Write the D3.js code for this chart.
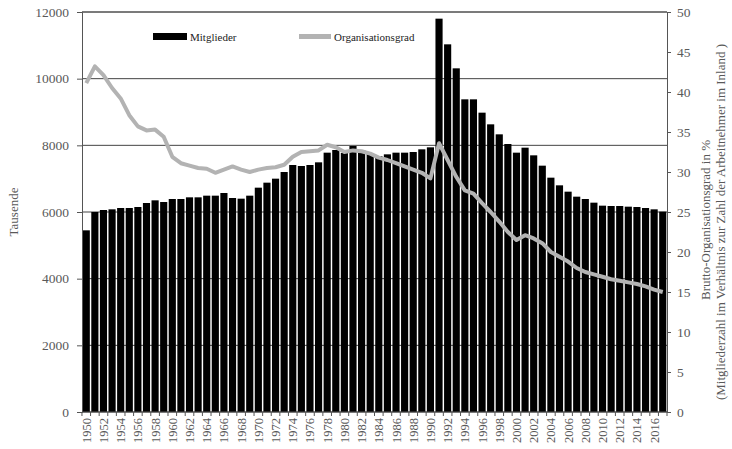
<!DOCTYPE html>
<html>
<head>
<meta charset="utf-8">
<script src="https://cdn.jsdelivr.net/npm/d3@7"></script>
<style>
  body { margin: 0; background: #fff; }
  svg text { font-family: "Liberation Serif", "DejaVu Serif", serif; }
</style>
</head>
<body>
<script>
"use strict";
// years 1950 - 2017
const years = d3.range(1950, 2018)
// Mitglieder in Tausend
const members = [
  5450, 6000, 6060, 6080, 6120, 6120, 6150, 6270, 6350, 6300,
  6390, 6390, 6440, 6440, 6490, 6490, 6570, 6420, 6400, 6490,
  6730, 6880, 7000, 7200, 7410, 7380, 7410, 7490, 7780, 7860,
  7770, 7980, 7860, 7770, 7680, 7730, 7780, 7780, 7800, 7880,
  7940, 11800, 11030, 10310, 9380, 9380, 8980, 8630, 8330, 8040,
  7780, 7930, 7700, 7390, 7030, 6800, 6610, 6460, 6390, 6280,
  6190, 6180, 6180, 6160, 6150, 6120, 6080, 6010
]
// Brutto-Organisationsgrad in %
const orgGrad = [
  41.1, 43.2, 42.1, 40.5, 39.2, 37.1, 35.7, 35.2, 35.3, 34.4,
  31.9, 31.1, 30.8, 30.5, 30.4, 29.9, 30.3, 30.7, 30.3, 30.0,
  30.3, 30.5, 30.6, 30.9, 31.9, 32.5, 32.6, 32.7, 33.4, 33.1,
  32.5, 32.7, 32.6, 32.3, 31.8, 31.5, 31.1, 30.7, 30.3, 29.9,
  29.2, 33.6, 31.5, 29.4, 27.7, 27.3, 26.1, 25.0, 23.8, 22.5,
  21.5, 22.1, 21.7, 21.1, 20.0, 19.4, 18.8, 18.0, 17.5, 17.2,
  16.9, 16.6, 16.4, 16.2, 16.0, 15.7, 15.3, 15.0
]
const leftTicks = [0, 2000, 4000, 6000, 8000, 10000, 12000]
const rightTicks = [0, 5, 10, 15, 20, 25, 30, 35, 40, 45, 50]

const width = 732, height = 449
const margin = { top: 12, right: 65, bottom: 37, left: 82 }
const innerW = width - margin.left - margin.right
const innerH = height - margin.top - margin.bottom
const serif = "'Liberation Serif', 'DejaVu Serif', serif"

const svg = d3.select("body").append("svg")
    .attr("width", width)
    .attr("height", height)

const g = svg.append("g")
    .attr("transform", `translate(${margin.left},${margin.top})`)

const x = d3.scaleBand()
    .domain(years)
    .range([0, innerW])
    .paddingInner(0.17)
    .paddingOuter(0.08)
const yLeft = d3.scaleLinear().domain([0, 12000]).range([innerH, 0])
const yRight = d3.scaleLinear().domain([0, 50]).range([innerH, 0])

const axisColor = "#555"
const labelColor = "#595959"

// gridlines
g.append("g").selectAll("line")
  .data(leftTicks)
  .join("line")
    .attr("x1", 0).attr("x2", innerW)
    .attr("y1", d => yLeft(d)).attr("y2", d => yLeft(d))
    .attr("stroke", "#444")
    .attr("stroke-width", 1)

// bars
g.append("g").selectAll("rect")
  .data(years)
  .join("rect")
    .attr("x", d => x(d))
    .attr("y", (d, i) => yLeft(members[i]))
    .attr("width", x.bandwidth())
    .attr("height", (d, i) => innerH - yLeft(members[i]))
    .attr("fill", "#000")

// line
const line = d3.line()
    .x((d, i) => x(years[i]) + x.bandwidth() / 2)
    .y(d => yRight(d))
g.append("path")
    .datum(orgGrad)
    .attr("d", line)
    .attr("fill", "none")
    .attr("stroke", "#b3b3b3")
    .attr("stroke-width", 4)
    .attr("stroke-linejoin", "round")

// left axis
const leftAxis = g.append("g")
    .call(d3.axisLeft(yLeft).tickValues(leftTicks).tickSize(5).tickPadding(8).tickFormat(d3.format("d")))
leftAxis.attr("font-family", serif)
leftAxis.select(".domain").attr("stroke", axisColor)
leftAxis.selectAll(".tick line").attr("stroke", axisColor)
leftAxis.selectAll("text")
    .attr("fill", labelColor)
    .style("font-size", "13.5px")

// right axis
const rightAxis = g.append("g")
    .attr("transform", `translate(${innerW},0)`)
    .call(d3.axisRight(yRight).tickValues(rightTicks).tickSize(4).tickPadding(6))
rightAxis.attr("font-family", serif)
rightAxis.select(".domain").attr("stroke", axisColor)
rightAxis.selectAll(".tick line").attr("stroke", axisColor)
rightAxis.selectAll("text")
    .attr("fill", labelColor)
    .style("font-size", "13.5px")

// bottom axis: ticks at band edges, labels every two years
const bottom = g.append("g").attr("transform", `translate(0,${innerH})`)
bottom.append("line")
    .attr("x1", 0).attr("x2", innerW)
    .attr("stroke", axisColor)
const step = x.step()
const edges = years.map(d => x(d) - (step - x.bandwidth()) / 2).concat([innerW])
bottom.selectAll(".xtick")
  .data(edges)
  .join("line")
    .attr("class", "xtick")
    .attr("x1", d => d).attr("x2", d => d)
    .attr("y1", 0).attr("y2", 4)
    .attr("stroke", axisColor)
bottom.selectAll(".xlabel")
  .data(years.filter(d => d % 2 === 0))
  .join("text")
    .attr("class", "xlabel")
    .attr("transform", d => `translate(${x(d) + x.bandwidth() / 2 + 4.5},6) rotate(-90)`)
    .attr("text-anchor", "end")
    .attr("fill", labelColor)
    .style("font-size", "12.5px")
    .text(d => d)

// top border
g.append("line")
    .attr("x1", 0).attr("x2", innerW)
    .attr("y1", 0).attr("y2", 0)
    .attr("stroke", axisColor)

// axis titles
svg.append("text")
    .attr("transform", `translate(18,${margin.top + innerH / 2}) rotate(-90)`)
    .attr("text-anchor", "middle")
    .attr("fill", labelColor)
    .style("font-size", "13px")
    .text("Tausende")
svg.append("text")
    .attr("transform", `translate(710,${margin.top + innerH / 2 + 8}) rotate(-90)`)
    .attr("text-anchor", "middle")
    .attr("fill", labelColor)
    .style("font-size", "13px")
    .text("Brutto-Organisationsgrad in %")
svg.append("text")
    .attr("transform", `translate(725,${margin.top + innerH / 2 + 10}) rotate(-90)`)
    .attr("text-anchor", "middle")
    .attr("fill", labelColor)
    .style("font-size", "13px")
    .text("(Mitgliederzahl im Verhältnis zur Zahl der Arbeitnehmer im Inland  )")

// legend
const legend = svg.append("g")
legend.append("rect")
    .attr("x", 153).attr("y", 33)
    .attr("width", 34).attr("height", 7)
    .attr("fill", "#000")
legend.append("text")
    .attr("x", 190).attr("y", 41)
    .style("font-size", "11px")
    .attr("fill", "#222")
    .text("Mitglieder")
legend.append("line")
    .attr("x1", 299).attr("x2", 331)
    .attr("y1", 36.5).attr("y2", 36.5)
    .attr("stroke", "#b3b3b3")
    .attr("stroke-width", 5)
legend.append("text")
    .attr("x", 334).attr("y", 41)
    .style("font-size", "11px")
    .attr("fill", "#222")
    .text("Organisationsgrad")
</script>
</body>
</html>
